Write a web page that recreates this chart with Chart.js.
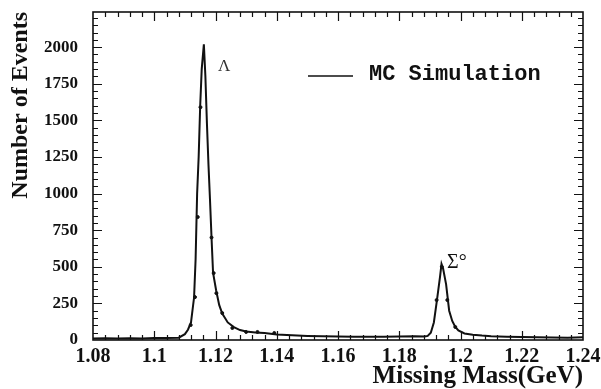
<!DOCTYPE html>
<html>
<head>
<meta charset="utf-8">
<script src="https://cdn.jsdelivr.net/npm/chart.js@4.4.1/dist/chart.umd.min.js"></script>
<style>
  html, body { margin: 0; padding: 0; background: #fff; }
  #c { display: block; }
</style>
</head>
<body>
<canvas id="c" width="601" height="389"></canvas>
<script>
// ── Data ────────────────────────────────────────────────────
const mcMass = [
  1.080, 1.084, 1.088, 1.092, 1.096, 1.100, 1.104, 1.108, 1.110, 1.111,
  1.112, 1.113, 1.1135, 1.114, 1.1145, 1.115, 1.1155, 1.1162, 1.1167, 1.1172,
  1.1177, 1.1182, 1.1187, 1.1192, 1.1202, 1.1212, 1.1222, 1.124, 1.126, 1.128,
  1.130, 1.133, 1.136, 1.140, 1.145, 1.150, 1.155, 1.160, 1.165, 1.170,
  1.175, 1.180, 1.185, 1.1883, 1.1893, 1.1903, 1.1913, 1.1923, 1.1933, 1.1938,
  1.1943, 1.1953, 1.1963, 1.1973, 1.1983, 1.1993, 1.2013, 1.204, 1.207, 1.210,
  1.215, 1.220, 1.225, 1.230, 1.235, 1.240,
];
const mcCounts = [
  10, 12, 10, 12, 11, 13, 14, 16, 40, 70,
  120, 290, 550, 1000, 1250, 1600, 1850, 2020, 1800, 1480,
  1200, 960, 700, 460, 340, 240, 180, 120, 88, 68,
  58, 52, 48, 38, 32, 28, 26, 24, 22, 22,
  22, 24, 26, 24, 28, 50, 120, 270, 430, 520,
  490, 380, 200, 130, 89, 65, 45, 36, 30, 26,
  22, 20, 18, 17, 16, 18,
];

// measured points sitting on top of the MC curve
const dataMass   = [1.1119, 1.1133, 1.1142, 1.1151, 1.1187, 1.1194, 1.1203, 1.1222, 1.1255, 1.1300, 1.1337, 1.1392, 1.1922, 1.1939, 1.1957, 1.1983];
const dataCounts = [102, 293, 840, 1590, 700, 457, 320, 184, 82, 55, 55, 48, 273, 500, 273, 89];

const xTickValues = [1.08, 1.10, 1.12, 1.14, 1.16, 1.18, 1.20, 1.22, 1.24];
const xTickLabels = ['1.08', '1.1', '1.12', '1.14', '1.16', '1.18', '1.2', '1.22', '1.24'];
const yTickValues = [0, 250, 500, 750, 1000, 1250, 1500, 1750, 2000];

const X_MIN = 1.08, X_MAX = 1.24, X_MINOR = 0.004;
const Y_MIN = 0,    Y_MAX = 2240, Y_MINOR = 50;

const INK = '#111';

// ── Frame with inward ticks on all four sides, plus labels ──
const frameTicks = {
  id: 'frameTicks',
  afterDatasetsDraw(chart) {
    const { ctx, chartArea: a, scales: { x, y } } = chart;
    ctx.save();
    ctx.strokeStyle = INK;
    ctx.lineWidth = 1.6;
    ctx.strokeRect(a.left, a.top, a.right - a.left, a.bottom - a.top);

    ctx.lineWidth = 1.2;
    ctx.beginPath();
    const nx = Math.round((X_MAX - X_MIN) / X_MINOR);
    for (let i = 1; i < nx; i++) {
      const px = Math.round(x.getPixelForValue(X_MIN + i * X_MINOR)) + 0.5;
      const len = i % 5 === 0 ? 9 : 5;
      ctx.moveTo(px, a.bottom); ctx.lineTo(px, a.bottom - len);
      ctx.moveTo(px, a.top);    ctx.lineTo(px, a.top + len);
    }
    const ny = Math.floor((Y_MAX - Y_MIN) / Y_MINOR);
    for (let i = 1; i <= ny; i++) {
      const py = Math.round(y.getPixelForValue(Y_MIN + i * Y_MINOR)) + 0.5;
      const len = i % 5 === 0 ? 9 : 5;
      ctx.moveTo(a.left, py);  ctx.lineTo(a.left + len, py);
      ctx.moveTo(a.right, py); ctx.lineTo(a.right - len, py);
    }
    ctx.stroke();

    // peak labels
    ctx.fillStyle = '#333';
    ctx.textBaseline = 'middle';
    ctx.textAlign = 'left';
    ctx.font = '17px "Liberation Serif", serif';
    ctx.fillText('Λ', x.getPixelForValue(1.1208), y.getPixelForValue(1870));
    ctx.fillStyle = INK;
    ctx.font = '20px "Liberation Serif", serif';
    ctx.fillText('Σ°', x.getPixelForValue(1.1956), y.getPixelForValue(525));

    // legend
    ctx.lineWidth = 1.6;
    ctx.beginPath();
    ctx.moveTo(308, 76); ctx.lineTo(353, 76);
    ctx.stroke();
    ctx.font = 'bold 22px "Liberation Mono", monospace';
    ctx.fillText('MC Simulation', 369, 74);
    ctx.restore();
  },
};

const tickFontX = { family: '"Liberation Serif", serif', size: 20, weight: 'bold' };
const tickFontY = { family: '"Liberation Serif", serif', size: 17, weight: 'bold' };

new Chart(document.getElementById('c'), {
  type: 'line',
  data: {
    datasets: [
      {
        label: 'MC Simulation',
        data: mcMass.map((m, i) => ({ x: m, y: mcCounts[i] })),
        borderColor: INK,
        borderWidth: 2,
        pointRadius: 0,
        tension: 0,
        fill: false,
      },
      {
        label: 'Data',
        type: 'scatter',
        data: dataMass.map((m, i) => ({ x: m, y: dataCounts[i] })),
        backgroundColor: INK,
        borderColor: INK,
        pointRadius: 1.5,
      },
    ],
  },
  options: {
    responsive: false,
    animation: false,
    devicePixelRatio: 1,
    layout: { padding: { top: 12, right: 18, left: 9, bottom: 0 } },
    plugins: { legend: { display: false }, tooltip: { enabled: false } },
    scales: {
      x: {
        type: 'linear',
        min: X_MIN,
        max: X_MAX,
        afterBuildTicks: (s) => { s.ticks = xTickValues.map((v) => ({ value: v })); },
        afterFit: (s) => { s.height = 49; s.paddingLeft = 0; s.paddingRight = 0; },
        grid: { display: false, drawTicks: false },
        border: { display: false },
        ticks: {
          color: INK,
          font: tickFontX,
          padding: 5,
          maxRotation: 0,
          autoSkip: false,
          callback: (v) => {
            const k = xTickValues.findIndex((t) => Math.abs(t - v) < 1e-6);
            return k >= 0 ? xTickLabels[k] : '';
          },
        },
        title: {
          display: true,
          text: 'Missing Mass(GeV)',
          align: 'end',
          color: INK,
          padding: 0,
          font: { family: '"Liberation Serif", serif', size: 25, weight: 'bold', lineHeight: 1.0 },
        },
      },
      y: {
        type: 'linear',
        min: Y_MIN,
        max: Y_MAX,
        afterBuildTicks: (s) => { s.ticks = yTickValues.map((v) => ({ value: v })); },
        afterFit: (s) => { s.width = 84; s.paddingTop = 0; s.paddingBottom = 0; },
        grid: { display: false, drawTicks: false },
        border: { display: false },
        ticks: { color: INK, font: tickFontY, padding: 15, callback: (v) => String(v) },
        title: {
          display: true,
          text: 'Number of Events',
          align: 'end',
          color: INK,
          padding: 0,
          font: { family: '"Liberation Serif", serif', size: 24, weight: 'bold', lineHeight: 1.0 },
        },
      },
    },
  },
  plugins: [frameTicks],
});
</script>
</body>
</html>
